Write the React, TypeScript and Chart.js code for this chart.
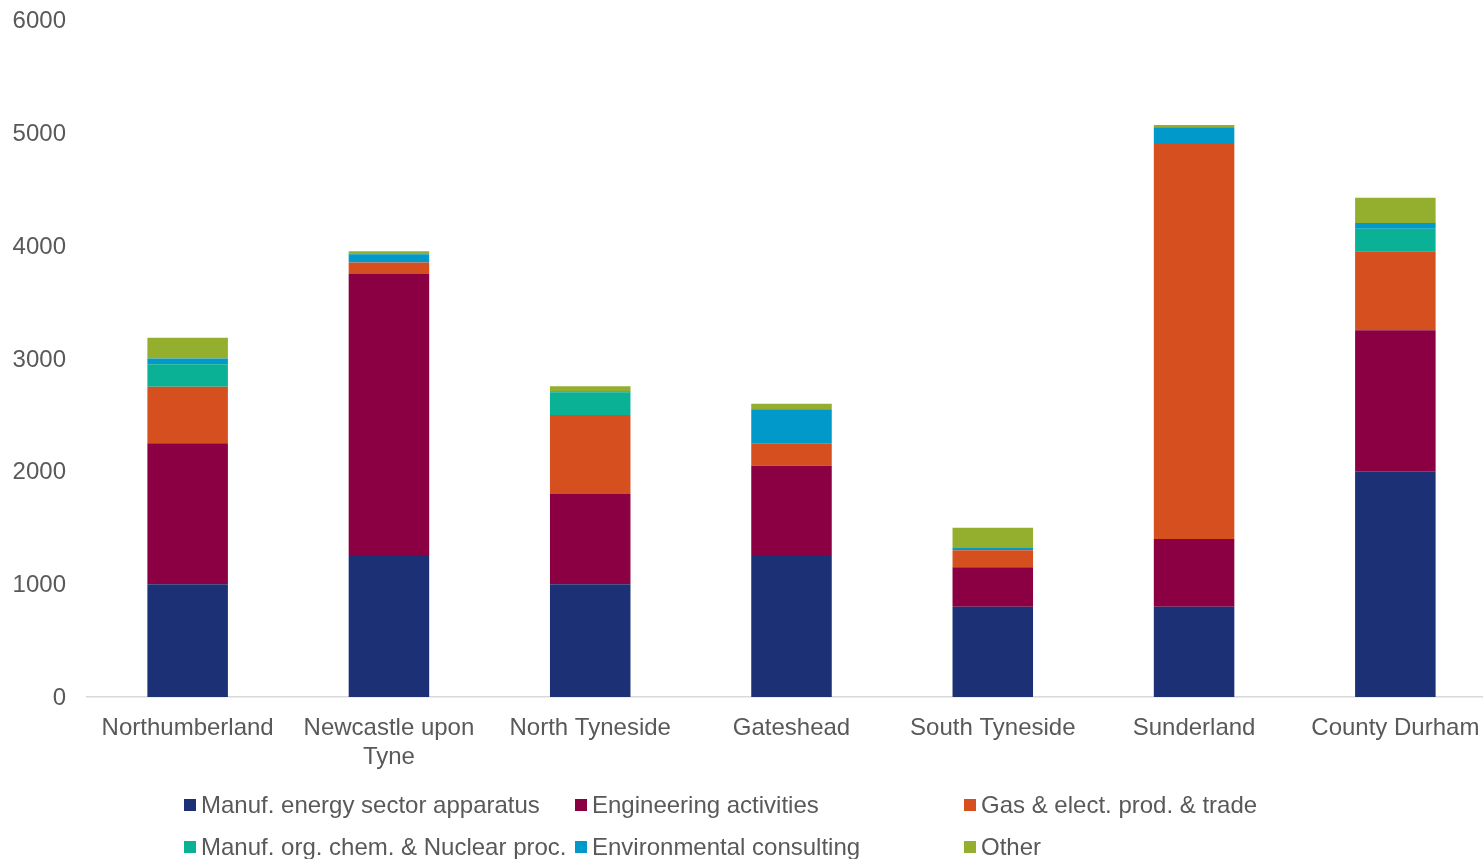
import React, { useEffect, useRef } from "react";
import { Chart, registerables } from "chart.js";

Chart.register(...registerables);

const categories: (string | string[])[] = [
  "Northumberland",
  ["Newcastle upon", "Tyne"],
  "North Tyneside",
  "Gateshead",
  "South Tyneside",
  "Sunderland",
  "County Durham",
];

const manufEnergy = [1000, 1250, 1000, 1250, 800, 800, 2000];
const engineering = [1250, 2500, 800, 800, 350, 600, 1250];
const gasElect = [500, 100, 700, 200, 150, 3500, 700];
const orgChemNuclear = [200, 0, 200, 0, 0, 0, 200];
const envConsulting = [50, 75, 10, 300, 20, 150, 50];
const other = [185, 25, 45, 50, 180, 20, 225];

const seriesNames = [
  "Manuf. energy sector apparatus",
  "Engineering activities",
  "Gas & elect. prod. & trade",
  "Manuf. org. chem. & Nuclear proc.",
  "Environmental consulting",
  "Other",
];
const seriesColors = ["#1B3075", "#8B0042", "#D5501E", "#0BB195", "#0099C9", "#94AF2D"];
const seriesData = [manufEnergy, engineering, gasElect, orgChemNuclear, envConsulting, other];

const yTicks = [0, 1000, 2000, 3000, 4000, 5000, 6000];

const FONT = "'Liberation Sans', Arial, sans-serif";
const TEXT = "#595959";
const FSIZE = 24;

// legend order: row 1 -> series 0,1,2 ; row 2 -> series 3,4,5
const legendPlugin = {
  id: "gridLegend",
  afterDraw(chart: any) {
    const ctx = chart.ctx;
    const colX = [184, 575, 964];
    const rowY = [805, 847];
    ctx.save();
    ctx.font = `${FSIZE}px ${FONT}`;
    ctx.textBaseline = "middle";
    ctx.textAlign = "left";
    chart.data.datasets.forEach((ds: any, i: number) => {
      const cx = colX[i % 3];
      const cy = rowY[Math.floor(i / 3)];
      ctx.fillStyle = ds.backgroundColor;
      ctx.fillRect(cx, cy - 6, 12, 12);
      ctx.fillStyle = TEXT;
      ctx.fillText(ds.label, cx + 17, cy + 1);
    });
    ctx.restore();
  },
};

export default function App() {
  const ref = useRef<HTMLCanvasElement | null>(null);

  useEffect(() => {
    if (!ref.current) return;
    const chart = new Chart(ref.current, {
      type: "bar",
      data: {
        labels: categories,
        datasets: seriesNames.map((name, i) => ({
          label: name,
          data: seriesData[i],
          backgroundColor: seriesColors[i],
          borderWidth: 0,
          barPercentage: 0.4,
          categoryPercentage: 1,
        })),
      },
      options: {
        animation: false,
        responsive: false,
        devicePixelRatio: 1,
        layout: { padding: { left: 12, top: 20, right: 0, bottom: 0 } },
        plugins: {
          legend: { display: false },
          tooltip: { enabled: false },
        },
        scales: {
          x: {
            stacked: true,
            grid: { display: false, drawTicks: false },
            border: { display: true, color: "#D9D9D9", width: 1.5 },
            ticks: {
              color: TEXT,
              font: { family: FONT, size: FSIZE },
              padding: 17,
              maxRotation: 0,
              autoSkip: false,
            },
            afterFit(scale: any) {
              scale.height = 183;
              scale.paddingLeft = 0;
              scale.paddingRight = 0;
            },
          },
          y: {
            stacked: true,
            min: 0,
            max: 6000,
            grid: { display: false, drawTicks: false },
            border: { display: false },
            afterBuildTicks(scale: any) {
              scale.ticks = yTicks.map((v) => ({ value: v }));
            },
            ticks: {
              color: TEXT,
              font: { family: FONT, size: FSIZE },
              padding: 21,
              labelOffset: 1.5,
              callback: (v: any) => String(v),
            },
            afterFit(scale: any) {
              scale.width = 75;
              scale.paddingTop = 0;
              scale.paddingBottom = 0;
            },
          },
        },
      },
      plugins: [legendPlugin],
    });
    return () => chart.destroy();
  }, []);

  return (
    <div
      style={{
        position: "fixed",
        left: 0,
        top: 0,
        width: 1483,
        height: 859,
        overflow: "hidden",
        background: "#fff",
      }}
    >
      <canvas ref={ref} width={1496} height={880} style={{ display: "block" }} />
    </div>
  );
}
